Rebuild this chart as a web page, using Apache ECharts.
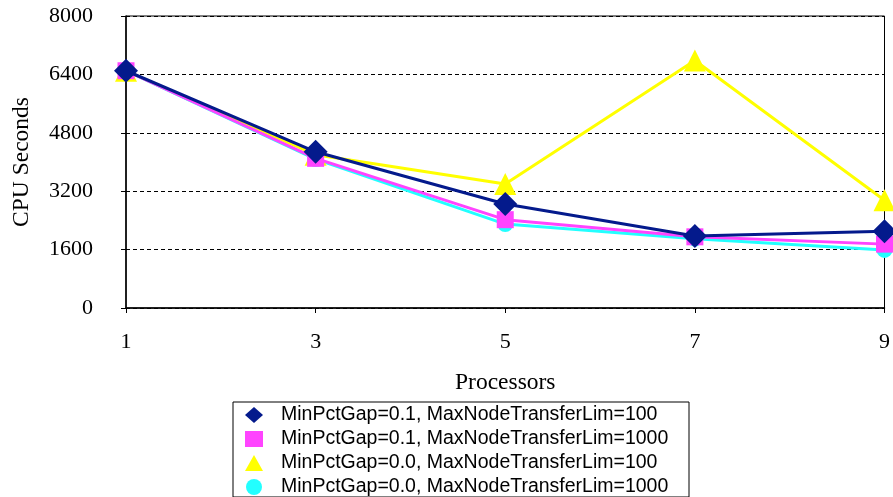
<!DOCTYPE html>
<html>
<head>
<meta charset="utf-8">
<script src="https://cdn.jsdelivr.net/npm/echarts@6/dist/echarts.min.js"></script>
<style>
  html, body { margin: 0; padding: 0; background: #fff; }
  #chart { width: 893px; height: 497px; }
</style>
</head>
<body>
<div id="chart"></div>
<script>
// Processor counts on the x axis
const processors = ['1', '3', '5', '7', '9'];

// CPU seconds per configuration
const gap01Lim100  = [6500, 4280, 2850, 1970, 2100];
const gap01Lim1000 = [6500, 4100, 2420, 1950, 1750];
const gap00Lim100  = [6500, 4200, 3400, 6780, 2950];
const gap00Lim1000 = [6500, 4080, 2300, 1900, 1590];

const seriesNames = [
  'MinPctGap=0.1, MaxNodeTransferLim=100',
  'MinPctGap=0.1, MaxNodeTransferLim=1000',
  'MinPctGap=0.0, MaxNodeTransferLim=100',
  'MinPctGap=0.0, MaxNodeTransferLim=1000'
];

const serifFont = '"Liberation Serif", "Times New Roman", serif';
const sansFont = '"Liberation Sans", Arial, sans-serif';

const chart = echarts.init(document.getElementById('chart'), null, { renderer: 'canvas' });

function lineSeries(name, data, color, symbol, size, z) {
  return {
    name: name,
    type: 'line',
    data: data,
    symbol: symbol,
    symbolSize: size,
    z: z,
    lineStyle: { color: color, width: 3 },
    itemStyle: { color: color },
    emphasis: { disabled: true },
    animation: false
  };
}

chart.setOption({
  animation: false,
  grid: {
    left: 126, right: 6, top: 16, bottom: 189,
    show: true, borderColor: '#000', borderWidth: 1, backgroundColor: '#fff'
  },
  xAxis: {
    type: 'category',
    data: processors,
    boundaryGap: false,
    name: 'Processors',
    nameLocation: 'middle',
    nameGap: 63,
    nameTextStyle: { fontFamily: serifFont, fontSize: 23.5, color: '#000' },
    axisLine: { lineStyle: { color: '#000', width: 1.5 } },
    axisTick: { show: true, length: 5, lineStyle: { color: '#000' } },
    axisLabel: { margin: 23, fontFamily: serifFont, fontSize: 22, color: '#000' },
    splitLine: { show: false }
  },
  yAxis: {
    type: 'value',
    min: 0, max: 8000, interval: 1600,
    name: 'CPU Seconds',
    nameLocation: 'middle',
    nameGap: 92,
    nameTextStyle: { fontFamily: serifFont, fontSize: 23.5, color: '#000' },
    axisLine: { show: true, lineStyle: { color: '#000', width: 1.5 } },
    axisTick: { show: true, length: 5, lineStyle: { color: '#000' } },
    axisLabel: {
      margin: 33, fontFamily: serifFont, fontSize: 22, color: '#000',
      formatter: function (v) { return String(v); }
    },
    splitLine: { show: true, lineStyle: { color: '#000', type: [4, 3], width: 1 } }
  },
  legend: {
    orient: 'vertical',
    left: 245, top: 405,
    padding: 0,
    itemWidth: 18, itemHeight: 16,
    itemGap: 4,
    selectedMode: false,
    textStyle: { fontFamily: sansFont, fontSize: 19.5, color: '#000', lineHeight: 20, padding: [0, 0, 0, 13] },
    data: [
      { name: seriesNames[0], icon: 'diamond' },
      { name: seriesNames[1], icon: 'rect' },
      { name: seriesNames[2], icon: 'triangle' },
      { name: seriesNames[3], icon: 'circle' }
    ]
  },
  graphic: [{
    type: 'rect',
    shape: { x: 233, y: 402, width: 456, height: 95 },
    style: { fill: null, stroke: '#000', lineWidth: 1 },
    silent: true
  }],
  series: [
    lineSeries(seriesNames[3], gap00Lim1000, '#22FFFF', 'circle', 16, 1),
    lineSeries(seriesNames[2], gap00Lim100, '#FFFF00', 'triangle', 22, 2),
    lineSeries(seriesNames[1], gap01Lim1000, '#FF44FF', 'rect', 17, 3),
    lineSeries(seriesNames[0], gap01Lim100, '#041A8C', 'diamond', 24, 4)
  ]
});
</script>
</body>
</html>
